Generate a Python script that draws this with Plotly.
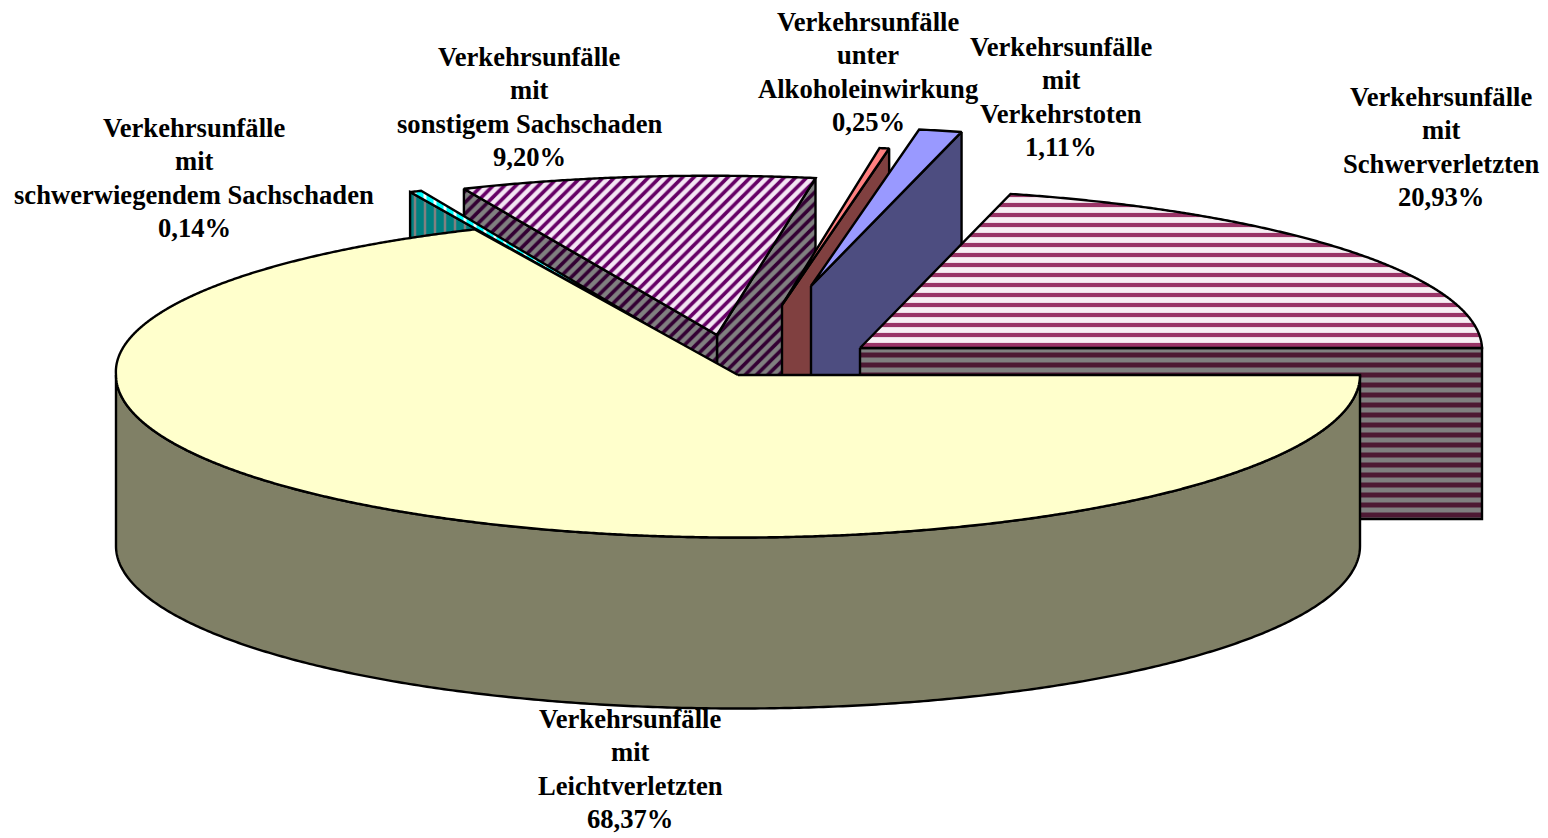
import numpy as np
import plotly.graph_objects as go

# --- data ---
categories = ["Leichtverletzten", "schwerwiegendem Sachschaden", "sonstigem Sachschaden",
              "Alkoholeinwirkung", "Verkehrstoten", "Schwerverletzten"]
connectors = ["mit", "mit", "mit", "unter", "mit", "mit"]
percent = [68.37, 0.14, 9.20, 0.25, 1.11, 20.93]

# --- geometry of the exploded 3-D pie (pixel scale) ---
RX, RY, DEPTH = 622.0, 162.5, 171.0
BACK_SQUASH = 0.98
centres = [(738, 375), (668, 337), (717, 335), (782, 305), (811, 286), (860, 348)]
skew = [12.5, 0.3, 7, 8, 7, 7]
sweep_pad = [0, 0.6, 0, 0, 0, 0]
paint_order = [2, 1, 3, 4, 5, 0]

# --- styles ---
top_style = [
    dict(color="#FFFFCC"),
    dict(color="#00FFFF", fg="#FFFFFF", shape="|", size=10, sol=0.3),
    dict(color="#F4E6F4", fg="#660066", shape="/", size=8, sol=0.45),
    dict(color="#FF8080"),
    dict(color="#9999FF"),
    dict(color="#F7EFF3", fg="#993366", shape="-", size=10, sol=0.42),
]
wall_style = [
    dict(color="#808066"),
    dict(color="#008080", fg="#808080", shape="|", size=10, sol=0.25),
    dict(color="#808080", fg="#330033", shape="/", size=8, sol=0.45),
    dict(color="#804040"),
    dict(color="#4D4D80"),
    dict(color="#808080", fg="#4D1933", shape="-", size=10, sol=0.5),
]
label_pos = [(630, 719), (194, 128), (529, 57), (868, 22), (1061, 47), (1441, 97)]
LINE_STEP = 33.4
FONT = dict(family="Liberation Serif", size=26.6, color="black")


def rim(i, theta):
    cx, cy = centres[i]
    t = np.radians(theta)
    s = np.sin(t)
    y = np.where(s > 0, RY * BACK_SQUASH * s, RY * s)
    return cx + RX * np.cos(t) - skew[i] * np.maximum(s, 0), cy - y


def add_poly(fig, xs, ys, st):
    kw = dict(fillcolor=st["color"])
    if "fg" in st:
        kw["fillpattern"] = dict(shape=st["shape"], size=st["size"], solidity=st["sol"],
                                 fgcolor=st["fg"], bgcolor=st["color"], fgopacity=1)
    fig.add_trace(go.Scatter(x=list(xs), y=list(ys), mode="lines", fill="toself",
                             line=dict(color="black", width=2.4, simplify=False),
                             hoverinfo="skip", showlegend=False, **kw))


# slices run clockwise from east, so angles fall from 360
edges = 360 - np.concatenate([[0], np.cumsum(percent)]) * 3.6
fig = go.Figure()
for i in paint_order:
    a2, a1 = edges[i] + sweep_pad[i], edges[i + 1]  # a1 < a2
    cx, cy = centres[i]
    # radial faces that look towards the viewer
    for a, visible in ((a1, np.cos(np.radians(a1)) > 0), (a2, np.cos(np.radians(a2)) < 0)):
        if visible:
            x, y = rim(i, np.array([a]))
            add_poly(fig, [cx, x[0], x[0], cx, cx],
                     [cy, y[0], y[0] + DEPTH, cy + DEPTH, cy], wall_style[i])
    # outer wall on the front half
    lo, hi = max(a1, 180), min(a2, 360)
    if hi > lo:
        th = np.linspace(lo, hi, 400)
        x, y = rim(i, th)
        add_poly(fig, np.r_[x, x[::-1], x[0]], np.r_[y, y[::-1] + DEPTH, y[0]], wall_style[i])
    # top face
    th = np.linspace(a1, a2, max(int(a2 - a1) * 4, 8))
    x, y = rim(i, th)
    add_poly(fig, np.r_[cx, x, cx], np.r_[cy, y, cy], top_style[i])

annotations = []
for i, cat in enumerate(categories):
    lines = ["Verkehrsunfälle", connectors[i], cat, f"{percent[i]:.2f}%".replace(".", ",")]
    lx, ly = label_pos[i]
    for k, text in enumerate(lines):
        annotations.append(dict(x=lx, y=ly + k * LINE_STEP, text=f"<b>{text}</b>", showarrow=False,
                                xanchor="center", yanchor="middle", font=FONT,
                                xref="x", yref="y"))

fig.update_layout(
    width=1548, height=838, margin=dict(l=0, r=0, t=0, b=0),
    paper_bgcolor="white", plot_bgcolor="white", annotations=annotations,
    xaxis=dict(range=[0, 1548], visible=False, fixedrange=True),
    yaxis=dict(range=[838, 0], visible=False, fixedrange=True),
)
fig.write_html("out.html", config=dict(displayModeBar=False),
               post_script="document.body.style.margin='0';document.body.style.overflow='hidden';")
